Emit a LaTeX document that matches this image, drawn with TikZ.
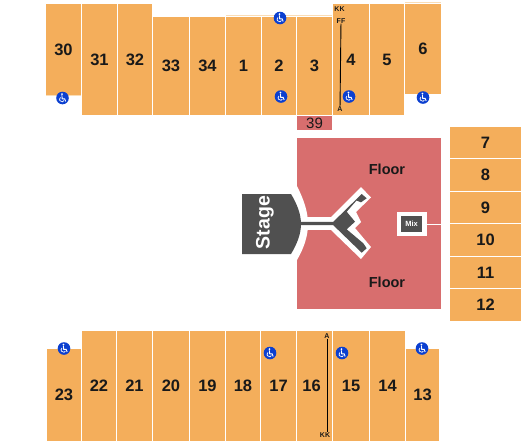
\documentclass[tikz,border=0pt]{standalone}
\usepackage{fontspec}
\setmainfont{Liberation Sans}
\usetikzlibrary{positioning,calc}
\definecolor{seatorange}{HTML}{F4AE5B}
\definecolor{floorred}{HTML}{D86E6E}
\definecolor{stagegray}{HTML}{505050}
\definecolor{adablue}{HTML}{0B3FD0}
\definecolor{seatline}{HTML}{FBDDB5}
\tikzset{
    section/.style={fill=seatorange,inner sep=0pt,font=\fontsize{16.5}{17}\selectfont\bfseries,text=black!90},
    rowlabel/.style={inner sep=0pt,font=\fontsize{7}{8}\selectfont\bfseries,text=black!90},
    rowline/.style={line width=0.9pt,black},
    floorlabel/.style={inner sep=0pt,font=\fontsize{14.5}{16}\selectfont\bfseries,text=black!90},
    pics/wheelchair/.style={code={
        \fill[adablue] (0,0) circle (6.3);
        \fill[white] (-0.6,-3.9) circle (1);
        \draw[white,line width=0.9pt] (-0.6,-2.6) -- (-0.3,0.9) -- (2.2,0.9) -- (3.1,3.4);
        \draw[white,line width=0.7pt] (-2.0,-0.6) .. controls (-4.2,1.6) and (-2.2,4.4) .. (0.1,3.8) .. controls (1,3.5) and (1.4,3) .. (1.5,2.5);
    }}
}
\begin{document}
\begin{tikzpicture}[x=1pt,y=-1pt]
    \useasboundingbox (0,0) rectangle (525,445);
    \foreach \sec/\xa/\xb/\ya/\yb in {30/46/81/4/95.5,31/82/117/4/115,32/118/152/4/115,33/153/189/17/115,34/190/225/17/115,
        1/226/261/17/115,2/262/296/17/115,3/297/332/17/115,4/333/369/4/115,5/370/404/4/115,6/405/441/4/94,
        23/47/81/349/441,22/82/116/331/441,21/117/152/331/441,20/153/189/331/441,19/190/225/331/441,18/226/260/331/441,
        17/261/296/331/441,15/333/369/331/441,14/370/405/331/441,13/406/439/349/441,
        7/450/521/127/158,8/450/521/159/191,9/450/521/192/223,10/450/521/224/256,11/450/521/257/288,12/450/521/289/321}
        \node[section,minimum width={(\xb-\xa)*1pt},minimum height={(\yb-\ya)*1pt}] (sec\sec) at ({(\xa+\xb)/2},{(\ya+\yb)/2}) {\sec};
    \node[section,minimum width=35pt,minimum height=110pt] (sec16) at (314.5,386) {\kern-6pt 16};
    \draw[seatline] (226,15.5) -- (332,15.5);
    \draw[seatline] (405,2.5) -- (441,2.5);
    \draw[seatline] (46,95.5) -- (81,95.5);
    \node[fill=floorred,inner sep=0pt,minimum width=35pt,minimum height=14pt,font=\fontsize{15}{16}\selectfont,text=black!90] (sec39) at (314.5,123) {39};
    \node[fill=floorred,inner sep=0pt,minimum width=144pt,minimum height=171pt] (floor) at (369,223.5) {};
    \node[floorlabel] (floortop) at (387,169) {Floor};
    \node[floorlabel] (floorbot) at (387,282) {Floor};
    \fill[white] (290,186) -- (297,186) .. controls (304,200) and (308,212) .. (308,224) .. controls (308,236) and (304,248) .. (297,260) -- (290,260) -- cycle;
    \fill[white] (300,217) -- (334,217) -- (334,230) -- (300,230) -- cycle;
    \fill[white] (331,217) -- (361,187) -- (371,197.5) -- (356,212) -- (361,222) -- (355,228) -- (371,247) -- (361,259) -- (331,230) -- cycle;
    \fill[stagegray] (300,221.8) -- (333.3,221.8) -- (361.7,194) -- (366.7,198.3) -- (361,202.3) -- (356.5,200.5) -- (346.7,211.7) -- (355,221.7) -- (346.7,229.3) -- (363.3,243.3) -- (366.7,248.3) -- (361.7,252.7) -- (333.3,225.2) -- (300,225.2) -- cycle;
    \fill[stagegray] (242,194) -- (291,194) .. controls (297,204) and (301,214) .. (301,224) .. controls (301,234) and (297,244) .. (291,254) -- (242,254) -- cycle;
    \node[rotate=90,inner sep=0pt,font=\fontsize{19.5}{20}\selectfont\bfseries,text=white] (stage) at (265,222.5) {Stage};
    \node[fill=white,inner sep=0pt,minimum width=30pt,minimum height=24pt] (mixbox) at (412,224) {};
    \node[fill=stagegray,inner sep=0pt,minimum width=21pt,minimum height=16pt,font=\fontsize{7.5}{8}\selectfont\bfseries,text=white] (mix) at (411.5,224) {Mix};
    \draw[white] (mixbox.east) -- (floor.east |- mixbox.east);
    \node[rowlabel] (topKK) at (339.5,9) {KK};
    \node[rowlabel] (topFF) at (341,21) {FF};
    \node[rowlabel] (topA) at (340,109) {A};
    \draw[rowline] (topFF) -- (topA);
    \node[rowlabel] (botA) at (327,336) {A};
    \node[rowlabel] (botKK) at (325,435) {KK};
    \draw[rowline] (botA) -- (botA |- botKK.north);
    \foreach \ax/\ay in {62.5/98,280/18,281/96.5,349/96.5,423/97.5,64/348.5,270/353,342/353,422/348.5}
        \pic at (\ax,\ay) {wheelchair};
\end{tikzpicture}
\end{document}
